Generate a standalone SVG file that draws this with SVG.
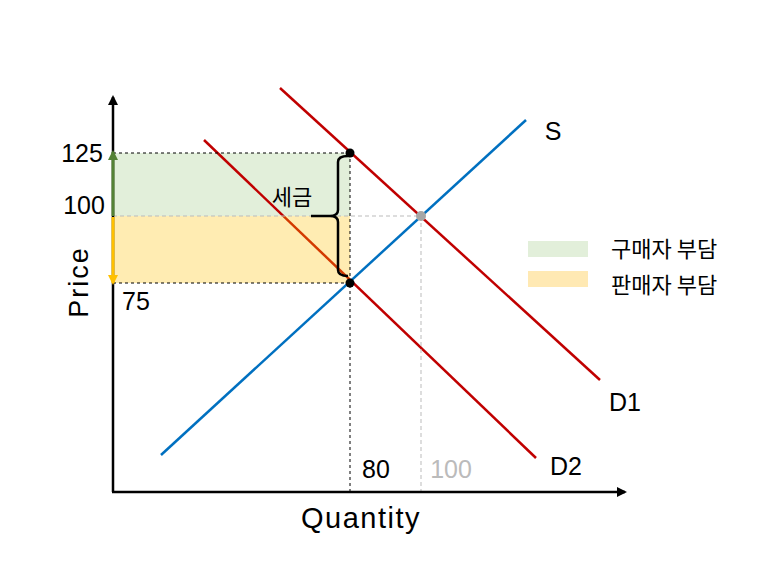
<svg xmlns="http://www.w3.org/2000/svg" width="776" height="579" viewBox="0 0 776 579">
<style>
.t{font-family:"Liberation Sans","Noto Sans CJK KR",sans-serif;fill:#000}
.k{font-family:"Noto Sans CJK KR","Liberation Sans",sans-serif;fill:#000}
.dk{stroke:#000;stroke-width:1;stroke-dasharray:3,3;fill:none}
.dg{stroke:#BBB;stroke-width:1;stroke-dasharray:4,3;fill:none}
.red{stroke:#C00000;stroke-width:2.5;fill:none}
.blue{stroke:#0070C0;stroke-width:2.5;fill:none}
</style>
<defs>
<marker id="ab" markerWidth="10" markerHeight="10" refX="8" refY="5" orient="auto" markerUnits="userSpaceOnUse"><path d="M0,0 L10,5 L0,10 Z" fill="#000"/></marker>
<marker id="ag" markerWidth="10" markerHeight="10" refX="8" refY="5" orient="auto" markerUnits="userSpaceOnUse"><path d="M0,0 L10,5 L0,10 Z" fill="#548235"/></marker>
<marker id="ay" markerWidth="10" markerHeight="10" refX="8" refY="5" orient="auto" markerUnits="userSpaceOnUse"><path d="M0,0 L10,5 L0,10 Z" fill="#FFC000"/></marker>
</defs>
<rect width="776" height="579" fill="#fff"/>
<g id="regions">
<rect id="buyer-area" x="113" y="153" width="237" height="63" fill="#E2EFDA"/>
</g>
<g id="connectors">
<line class="red" x1="204" y1="140" x2="536" y2="458"/>
<rect id="seller-area" x="113" y="216" width="237" height="67" fill="#FFC000" fill-opacity="0.3"/>
<line class="dk" x1="113" y1="153" x2="350" y2="153"/>
<line class="dk" x1="113" y1="283" x2="350" y2="283"/>
<line class="dg" x1="113" y1="216" x2="421" y2="216"/>
<line class="dk" x1="350" y1="153" x2="350" y2="492"/>
<line class="dg" x1="421" y1="216" x2="421" y2="492"/>
<line class="red" x1="280" y1="88" x2="600" y2="380"/>
<line class="blue" x1="161" y1="455" x2="526" y2="120"/>
<line stroke="#000" stroke-width="2.5" x1="113" y1="492" x2="113" y2="97" marker-end="url(#ab)"/>
<line stroke="#000" stroke-width="2.5" x1="112" y1="492" x2="625" y2="492" marker-end="url(#ab)"/>
<line stroke="#548235" stroke-width="3" x1="113" y1="216" x2="113" y2="152" marker-end="url(#ag)"/>
<line stroke="#FFC000" stroke-width="3" x1="113" y1="217" x2="113" y2="283" marker-end="url(#ay)"/>
<path d="M348,156 Q338,156 338,162 L338,210 Q338,216 330,216 L311,216 M330,216 Q338,216 338,222 L338,270 Q338,276 348,276" stroke="#000" stroke-width="2.5" fill="none"/>
</g>
<g id="points">
<circle cx="350" cy="153" r="4.5" fill="#000"/>
<circle cx="350" cy="283" r="4.5" fill="#000"/>
<circle cx="421" cy="216" r="5" fill="#A6A6A6"/>
</g>
<g id="labels">
<text class="t" x="82" y="162" font-size="25" text-anchor="middle">125</text>
<text class="t" x="84" y="214" font-size="25" text-anchor="middle">100</text>
<text class="t" x="136" y="310" font-size="25" text-anchor="middle">75</text>
<text class="t" x="0" y="0" font-size="27" letter-spacing="2" text-anchor="middle" transform="translate(88,282) rotate(-90)">Price</text>
<text class="t" x="376" y="478" font-size="25" text-anchor="middle">80</text>
<text class="t" x="451" y="478" font-size="25" text-anchor="middle" style="fill:#BBBBBB">100</text>
<text class="t" x="361" y="528" font-size="29" letter-spacing="1.5" text-anchor="middle">Quantity</text>
<text class="t" x="553" y="140" font-size="25" text-anchor="middle">S</text>
<text class="t" x="625" y="411" font-size="25" text-anchor="middle">D1</text>
<text class="t" x="566" y="475" font-size="25" text-anchor="middle">D2</text>
<text class="k" x="292" y="205" font-size="22" text-anchor="middle">세금</text>
</g>
<g id="legend">
<rect x="528" y="241" width="60" height="16" fill="#E2EFDA"/>
<rect x="528" y="271" width="60" height="16" fill="#FFE9B3"/>
<text class="k" x="611" y="257" font-size="22">구매자 부담</text>
<text class="k" x="611" y="293" font-size="22">판매자 부담</text>
</g>
</svg>
